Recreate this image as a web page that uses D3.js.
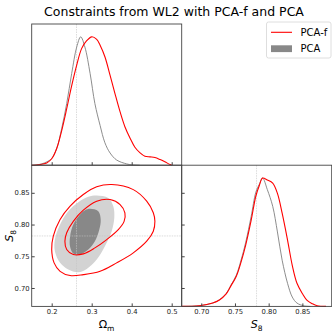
<!DOCTYPE html>
<html>
<head>
<style>
  body { margin: 0; background: #fff; }
  svg { display: block; font-family: "DejaVu Sans", sans-serif; }
  .tick line { stroke: #444; }
  .tick text { fill: #222; }
</style>
</head>
<body>
<svg id="chart"></svg>
<script src="https://d3js.org/d3.v7.min.js"></script>
<script>
// ---- data ----
// 1D marginal of Omega_m (normalised to peak 1)
var omX      = [0.15, 0.1625, 0.175, 0.1875, 0.20, 0.2125, 0.225, 0.2375, 0.25, 0.2625, 0.2725, 0.283, 0.296, 0.308, 0.321, 0.333, 0.346, 0.3625, 0.3875, 0.40, 0.42];
var omPCA    = [0, 0.003, 0.01, 0.026, 0.052, 0.13, 0.286, 0.48, 0.715, 0.92, 1.0, 0.92, 0.715, 0.48, 0.31, 0.175, 0.095, 0.04, 0.01, 0.003, 0];
var omXf     = [0.15, 0.1625, 0.175, 0.1875, 0.20, 0.2125, 0.225, 0.2375, 0.25, 0.2625, 0.275, 0.2875, 0.30, 0.3125, 0.321, 0.333, 0.346, 0.358, 0.371, 0.383, 0.396, 0.408, 0.421, 0.433, 0.446, 0.458, 0.471, 0.483, 0.496, 0.50];
var omPCAf   = [0, 0.002, 0.008, 0.018, 0.05, 0.13, 0.27, 0.44, 0.62, 0.78, 0.91, 0.97, 1.0, 0.98, 0.935, 0.845, 0.70, 0.56, 0.415, 0.30, 0.21, 0.14, 0.096, 0.07, 0.065, 0.06, 0.044, 0.026, 0.005, 0];

// 1D marginal of S8
var s8X      = [0.671, 0.697, 0.717, 0.727, 0.737, 0.744, 0.752, 0.759, 0.766, 0.774, 0.781, 0.786, 0.791, 0.798, 0.806, 0.813, 0.820, 0.828, 0.835, 0.842, 0.852, 0.862];
var s8PCA    = [0, 0.005, 0.026, 0.052, 0.10, 0.165, 0.243, 0.36, 0.50, 0.70, 0.89, 0.95, 1.0, 0.91, 0.78, 0.58, 0.36, 0.18, 0.073, 0.026, 0.005, 0];
var s8Xf     = [0.671, 0.697, 0.717, 0.727, 0.737, 0.744, 0.752, 0.759, 0.766, 0.774, 0.781, 0.786, 0.791, 0.798, 0.806, 0.813, 0.820, 0.828, 0.835, 0.842, 0.850, 0.857, 0.865, 0.872, 0.885];
var s8PCAf   = [0, 0.005, 0.026, 0.05, 0.097, 0.16, 0.235, 0.345, 0.48, 0.67, 0.86, 0.94, 1.0, 0.985, 0.96, 0.88, 0.726, 0.517, 0.32, 0.18, 0.10, 0.047, 0.02, 0.005, 0];

// 2D contours [Omega_m, S8]
var pcafOuter = [[0.35,0.8631],[0.404,0.855],[0.4375,0.8368],[0.454,0.8185],[0.458,0.805],[0.454,0.7895],[0.4375,0.7737],[0.404,0.7554],[0.3625,0.7396],[0.321,0.7263],[0.279,0.721],[0.246,0.7196],[0.221,0.7263],[0.206,0.7396],[0.20,0.7606],[0.204,0.7816],[0.221,0.8079],[0.246,0.829],[0.279,0.8473],[0.3125,0.8595]];
var pcafInner = [[0.346,0.8394],[0.371,0.8315],[0.383,0.8185],[0.381,0.805],[0.3665,0.792],[0.3375,0.7763],[0.308,0.7632],[0.279,0.7538],[0.254,0.7527],[0.2375,0.7606],[0.233,0.7737],[0.2375,0.787],[0.254,0.805],[0.279,0.8226],[0.3125,0.8368]];
var pcaOuter  = [[0.3125,0.8457],[0.3415,0.842],[0.354,0.829],[0.3565,0.8105],[0.35,0.7895],[0.333,0.7658],[0.3125,0.7448],[0.2875,0.730],[0.2665,0.7248],[0.2415,0.729],[0.221,0.7396],[0.208,0.758],[0.208,0.7763],[0.221,0.80],[0.2415,0.821],[0.2665,0.8352],[0.2915,0.8437]];
var pcaInner  = [[0.296,0.8248],[0.3165,0.821],[0.3225,0.8079],[0.319,0.792],[0.308,0.7737],[0.2915,0.7606],[0.2708,0.7527],[0.254,0.7543],[0.246,0.7648],[0.246,0.7816],[0.254,0.80],[0.2708,0.8158],[0.2833,0.8226]];

var fidOm = 0.262, fidS8 = 0.782;
var omTicks = [0.2, 0.3, 0.4, 0.5];
var s8Ticks = [0.70, 0.75, 0.80, 0.85];
var seriesNames = ["PCA-f", "PCA"];

// ---- layout ----
var W = 332, H = 332;
var x0 = 31.7, pw = 150, y0 = 24, ph = 141.2;
var svg = d3.select("#chart").attr("width", W).attr("height", H);

var xOm = d3.scaleLinear().domain([0.15, 0.525]).range([x0, x0 + pw]);
var yS8 = d3.scaleLinear().domain([0.671, 0.8935]).range([y0 + 2 * ph, y0 + ph]);
var xS8 = d3.scaleLinear().domain([0.671, 0.8935]).range([x0 + pw, x0 + 2 * pw]);
var yTop = d3.scaleLinear().domain([0, 1.1]).range([y0 + ph, y0]);
var yBR = d3.scaleLinear().domain([0, 1.1]).range([y0 + 2 * ph, y0 + ph]);

var red = "#ff0000", grey = "#808080";

function fidLine(g, x1, y1, x2, y2) {
  g.append("line").attr("x1", x1).attr("y1", y1).attr("x2", x2).attr("y2", y2)
    .attr("stroke", "#c4c4c4").attr("stroke-width", 0.6).attr("stroke-dasharray", "1.5,1");
}

// ---- top-left: Omega_m marginal ----
var tl = svg.append("g");
fidLine(tl, xOm(fidOm), y0, xOm(fidOm), y0 + ph);
var lineTL = d3.line().x(d => xOm(d[0])).y(d => yTop(d[1])).curve(d3.curveCatmullRom);
tl.append("path").attr("d", lineTL(d3.zip(omX, omPCA)))
  .attr("fill", "none").attr("stroke", grey).attr("stroke-width", 0.9);
tl.append("path").attr("d", lineTL(d3.zip(omXf, omPCAf)))
  .attr("fill", "none").attr("stroke", red).attr("stroke-width", 1.1);

// ---- bottom-left: 2D contours ----
var bl = svg.append("g");
var contourLine = d3.line().x(d => xOm(d[0])).y(d => yS8(d[1])).curve(d3.curveCatmullRomClosed);
bl.append("path").attr("d", contourLine(pcaOuter)).attr("fill", "#d3d3d3");
bl.append("path").attr("d", contourLine(pcaInner)).attr("fill", "#888888");
fidLine(bl, xOm(fidOm), y0 + ph, xOm(fidOm), y0 + 2 * ph);
fidLine(bl, x0, yS8(fidS8), x0 + pw, yS8(fidS8));
bl.append("path").attr("d", contourLine(pcafOuter)).attr("fill", "none").attr("stroke", red).attr("stroke-width", 1.1);
bl.append("path").attr("d", contourLine(pcafInner)).attr("fill", "none").attr("stroke", red).attr("stroke-width", 1.1);

// ---- bottom-right: S8 marginal ----
var br = svg.append("g");
fidLine(br, xS8(fidS8), y0 + ph, xS8(fidS8), y0 + 2 * ph);
var lineBR = d3.line().x(d => xS8(d[0])).y(d => yBR(d[1])).curve(d3.curveCatmullRom);
br.append("path").attr("d", lineBR(d3.zip(s8X, s8PCA)))
  .attr("fill", "none").attr("stroke", grey).attr("stroke-width", 0.9);
br.append("path").attr("d", lineBR(d3.zip(s8Xf, s8PCAf)))
  .attr("fill", "none").attr("stroke", red).attr("stroke-width", 1.1);

// ---- axes (ticks pointing inward) ----
var fs = "6.8px";
function styleAxis(g, showText) {
  g.select(".domain").remove();
  g.selectAll(".tick line").attr("stroke", "#444");
  g.selectAll(".tick text").style("font-size", fs).style("font-family", "DejaVu Sans");
  if (!showText) g.selectAll(".tick text").remove();
}
var fmt2 = d3.format(".2f"), fmt1 = d3.format(".1f");

svg.append("g").attr("transform", "translate(0," + (y0 + ph) + ")")
  .call(d3.axisBottom(xOm).tickValues(omTicks).tickSize(-3).tickFormat(fmt1))
  .call(g => styleAxis(g, false));
svg.append("g").attr("transform", "translate(0," + (y0 + 2 * ph) + ")")
  .call(d3.axisBottom(xOm).tickValues(omTicks).tickSize(-3).tickPadding(3).tickFormat(fmt1))
  .call(g => styleAxis(g, true));
svg.append("g").attr("transform", "translate(" + x0 + ",0)")
  .call(d3.axisLeft(yS8).tickValues(s8Ticks).tickSize(-3).tickPadding(2).tickFormat(fmt2))
  .call(g => styleAxis(g, true));
svg.append("g").attr("transform", "translate(0," + (y0 + 2 * ph) + ")")
  .call(d3.axisBottom(xS8).tickValues(s8Ticks).tickSize(-3).tickPadding(3).tickFormat(fmt2))
  .call(g => styleAxis(g, true));
svg.append("g").attr("transform", "translate(" + (x0 + pw) + ",0)")
  .call(d3.axisRight(yS8).tickValues(s8Ticks).tickSize(3))
  .call(g => styleAxis(g, false));

// ---- frames ----
[[x0, y0], [x0, y0 + ph], [x0 + pw, y0 + ph]].forEach(function (p) {
  svg.append("rect").attr("x", p[0]).attr("y", p[1]).attr("width", pw).attr("height", ph)
    .attr("fill", "none").attr("stroke", "#444").attr("stroke-width", 0.9);
});

// ---- labels ----
var omLab = svg.append("text").attr("x", xOm(0.337)).attr("y", 328)
  .attr("text-anchor", "middle").style("font-size", "11px");
omLab.append("tspan").text("\u03A9");
omLab.append("tspan").attr("dy", 2.5).style("font-size", "7.5px").text("m");

var s8Lab = svg.append("text").attr("transform", "translate(13," + yS8(0.782) + ") rotate(-90)")
  .attr("text-anchor", "middle").style("font-size", "11px");
s8Lab.append("tspan").style("font-style", "italic").text("S");
s8Lab.append("tspan").attr("dy", 2.5).style("font-size", "7.5px").text("8");

var s8Lab2 = svg.append("text").attr("x", xS8(0.782)).attr("y", 328)
  .attr("text-anchor", "middle").style("font-size", "11px");
s8Lab2.append("tspan").style("font-style", "italic").text("S");
s8Lab2.append("tspan").attr("dy", 2.5).style("font-size", "7.5px").text("8");

// ---- title ----
svg.append("text").attr("x", 174).attr("y", 16).attr("text-anchor", "middle")
  .style("font-size", "12.5px").text("Constraints from WL2 with " + seriesNames[0] + " and " + seriesNames[1]);

// ---- legend ----
var lg = svg.append("g");
lg.append("rect").attr("x", 266.5).attr("y", 22).attr("width", 64.5).attr("height", 36)
  .attr("rx", 2).attr("fill", "#fff").attr("fill-opacity", 0.8).attr("stroke", "#d6d6d6").attr("stroke-width", 0.8);
lg.append("line").attr("x1", 271).attr("x2", 292).attr("y1", 32.3).attr("y2", 32.3)
  .attr("stroke", red).attr("stroke-width", 1.1);
lg.append("text").attr("x", 300.5).attr("y", 35.8).style("font-size", "10px").text(seriesNames[0]);
lg.append("rect").attr("x", 271).attr("y", 45.3).attr("width", 21).attr("height", 6.8).attr("fill", "#888888");
lg.append("text").attr("x", 300.5).attr("y", 52).style("font-size", "10px").text(seriesNames[1]);
</script>
</body>
</html>
